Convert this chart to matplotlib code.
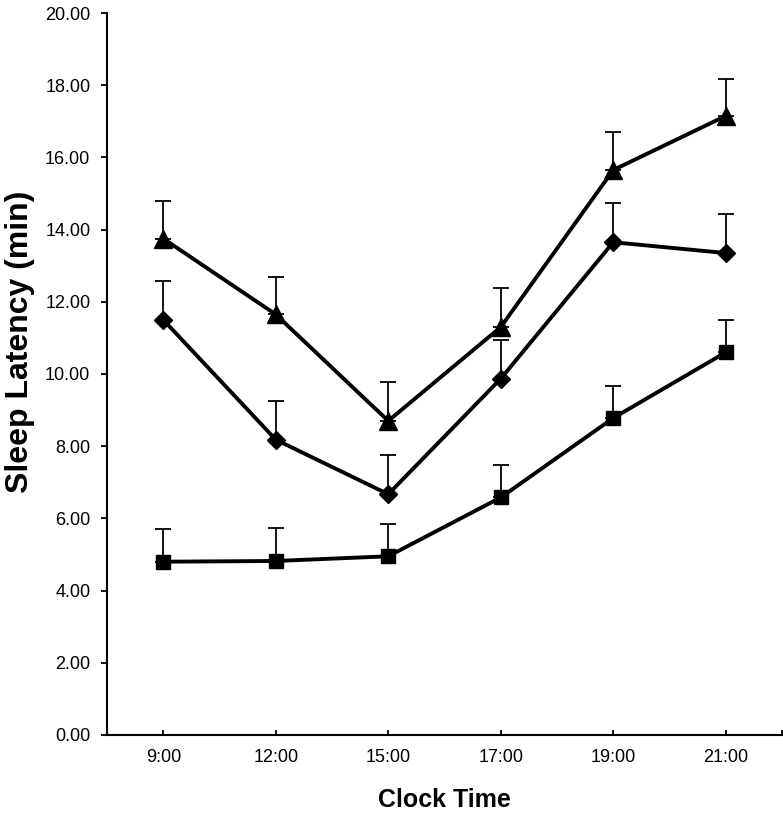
import numpy as np
import matplotlib.pyplot as plt

plt.rcParams['font.family'] = ['Liberation Sans', 'DejaVu Sans']

# Datos
times = ['9:00', '12:00', '15:00', '17:00', '19:00', '21:00']

tri_mean = [13.75, 11.65, 8.70, 11.30, 15.65, 17.15]
tri_err = [1.05, 1.05, 1.08, 1.07, 1.05, 1.03]

dia_mean = [11.50, 8.18, 6.67, 9.87, 13.65, 13.35]
dia_err = [1.08, 1.07, 1.08, 1.08, 1.08, 1.08]

sq_mean = [4.80, 4.82, 4.95, 6.58, 8.78, 10.60]
sq_err = [0.90, 0.90, 0.90, 0.90, 0.90, 0.90]

x = np.arange(len(times))

fig = plt.figure(figsize=(7.83, 8.19), dpi=100)
ax = fig.add_axes([0.1367, 0.1026, 0.862, 0.8815])

series = [
    (tri_mean, tri_err, '^', 13),
    (dia_mean, dia_err, 'D', 9.5),
    (sq_mean, sq_err, 's', 10),
]
for mean, err, mk, ms in series:
    ax.errorbar(x, mean, yerr=[np.zeros(len(err)), err], fmt='none',
                ecolor='black', elinewidth=1.3, capsize=6, capthick=1.3, zorder=2)
    ax.plot(x, mean, color='black', lw=2.8, marker=mk, ms=ms,
            markerfacecolor='black', markeredgecolor='black', zorder=3)

ax.set_xlim(-0.5, 5.5)
ax.set_ylim(0, 20)
ax.set_yticks(np.arange(0, 20.1, 2))
ax.set_yticklabels(['%.2f' % v for v in np.arange(0, 20.1, 2)])
ax.set_xticks(x)
ax.set_xticklabels(times)
ax.set_xticks([5.5], minor=True)

ax.spines['top'].set_visible(False)
ax.spines['right'].set_visible(False)
ax.spines['left'].set_linewidth(1.5)
ax.spines['bottom'].set_linewidth(1.5)

ax.tick_params(axis='y', direction='out', length=4, width=1.3, pad=8, labelsize=13)
ax.tick_params(axis='x', which='both', direction='in', length=3.5, width=1.3, pad=10, labelsize=13)

ax.set_ylabel('Sleep Latency (min)', fontsize=23, fontweight='bold')
ax.yaxis.set_label_coords(-0.106, 0.545)
ax.set_xlabel('Clock Time', fontsize=18, fontweight='bold', labelpad=16)

fig.savefig('out.png', dpi=100)
